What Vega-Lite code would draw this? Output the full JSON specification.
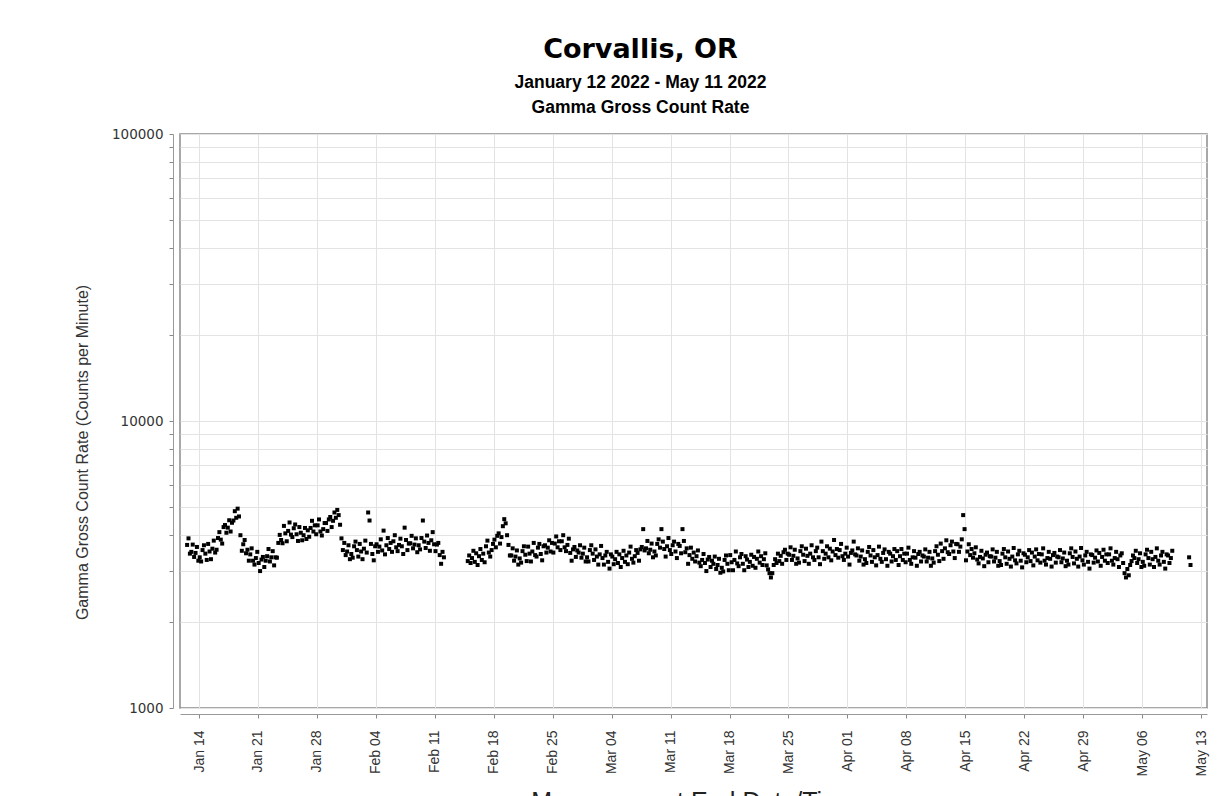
{
"$schema": "https://vega.github.io/schema/vega-lite/v6.json",
"width": 1027,
"height": 574,
"autosize": {"type": "none"},
"padding": {"left": 180, "top": 134, "right": 18, "bottom": 88},
"background": "white",
"title": {
"text": "Corvallis, OR",
"subtitle": ["January 12 2022 - May 11 2022", "Gamma Gross Count Rate"],
"anchor": "middle", "frame": "group", "dx": -53, "offset": 10,
"font": "DejaVu Sans", "fontSize": 27, "fontWeight": "bold", "color": "#000000",
"subtitleFont": "Liberation Sans", "subtitleFontSize": 17.5, "subtitleFontWeight": "bold", "subtitleColor": "#000000",
"subtitlePadding": 10, "subtitleLineHeight": 25
},
"data": {
"format": {"parse": {"t": "utc:'%Y-%m-%d %H'"}},
"values": [
{"t":"2022-01-12 14","v":3700},{"t":"2022-01-12 18","v":3900},{"t":"2022-01-12 22","v":3450},
{"t":"2022-01-13 02","v":3500},{"t":"2022-01-13 06","v":3710},{"t":"2022-01-13 10","v":3360},{"t":"2022-01-13 14","v":3470},{"t":"2022-01-13 18","v":3640},{"t":"2022-01-13 22","v":3260},
{"t":"2022-01-14 02","v":3350},{"t":"2022-01-14 06","v":3240},{"t":"2022-01-14 10","v":3550},{"t":"2022-01-14 14","v":3690},{"t":"2022-01-14 18","v":3450},{"t":"2022-01-14 22","v":3280},
{"t":"2022-01-15 02","v":3730},{"t":"2022-01-15 06","v":3510},{"t":"2022-01-15 10","v":3300},{"t":"2022-01-15 14","v":3590},{"t":"2022-01-15 18","v":3830},{"t":"2022-01-15 22","v":3480},
{"t":"2022-01-16 02","v":3560},{"t":"2022-01-16 06","v":3910},{"t":"2022-01-16 10","v":4100},{"t":"2022-01-16 14","v":3860},{"t":"2022-01-16 18","v":3740},{"t":"2022-01-16 22","v":4270},
{"t":"2022-01-17 02","v":4340},{"t":"2022-01-17 06","v":4080},{"t":"2022-01-17 10","v":4250},{"t":"2022-01-17 14","v":4510},{"t":"2022-01-17 18","v":4120},{"t":"2022-01-17 22","v":4420},
{"t":"2022-01-18 02","v":4500},{"t":"2022-01-18 06","v":4850},{"t":"2022-01-18 10","v":4600},{"t":"2022-01-18 14","v":4950},{"t":"2022-01-18 18","v":4650},{"t":"2022-01-18 22","v":4000},
{"t":"2022-01-19 02","v":3530},{"t":"2022-01-19 06","v":3720},{"t":"2022-01-19 10","v":3850},{"t":"2022-01-19 14","v":3460},{"t":"2022-01-19 18","v":3560},{"t":"2022-01-19 22","v":3260},
{"t":"2022-01-20 02","v":3430},{"t":"2022-01-20 06","v":3600},{"t":"2022-01-20 10","v":3260},{"t":"2022-01-20 14","v":3160},{"t":"2022-01-20 18","v":3330},{"t":"2022-01-20 22","v":3500},
{"t":"2022-01-21 02","v":3200},{"t":"2022-01-21 06","v":3000},{"t":"2022-01-21 10","v":3290},{"t":"2022-01-21 14","v":3360},{"t":"2022-01-21 18","v":3100},{"t":"2022-01-21 22","v":3260},
{"t":"2022-01-22 02","v":3380},{"t":"2022-01-22 06","v":3580},{"t":"2022-01-22 10","v":3240},{"t":"2022-01-22 14","v":3350},{"t":"2022-01-22 18","v":3520},{"t":"2022-01-22 22","v":3140},
{"t":"2022-01-23 02","v":3350},{"t":"2022-01-23 06","v":3340},{"t":"2022-01-23 10","v":3760},{"t":"2022-01-23 14","v":4010},{"t":"2022-01-23 18","v":3850},{"t":"2022-01-23 22","v":3750},
{"t":"2022-01-24 02","v":4310},{"t":"2022-01-24 06","v":4060},{"t":"2022-01-24 10","v":3810},{"t":"2022-01-24 14","v":4140},{"t":"2022-01-24 18","v":4430},{"t":"2022-01-24 22","v":4020},
{"t":"2022-01-25 02","v":3940},{"t":"2022-01-25 06","v":4230},{"t":"2022-01-25 10","v":4360},{"t":"2022-01-25 14","v":4030},{"t":"2022-01-25 18","v":3820},{"t":"2022-01-25 22","v":4270},
{"t":"2022-01-26 02","v":4080},{"t":"2022-01-26 06","v":3840},{"t":"2022-01-26 10","v":4000},{"t":"2022-01-26 14","v":4240},{"t":"2022-01-26 18","v":3880},{"t":"2022-01-26 22","v":4160},
{"t":"2022-01-27 02","v":3950},{"t":"2022-01-27 06","v":4240},{"t":"2022-01-27 10","v":4490},{"t":"2022-01-27 14","v":4120},{"t":"2022-01-27 18","v":4330},{"t":"2022-01-27 22","v":4030},
{"t":"2022-01-28 02","v":4330},{"t":"2022-01-28 06","v":4540},{"t":"2022-01-28 10","v":4120},{"t":"2022-01-28 14","v":3990},{"t":"2022-01-28 18","v":4200},{"t":"2022-01-28 22","v":4410},
{"t":"2022-01-29 02","v":4410},{"t":"2022-01-29 06","v":4140},{"t":"2022-01-29 10","v":4540},{"t":"2022-01-29 14","v":4630},{"t":"2022-01-29 18","v":4270},{"t":"2022-01-29 22","v":4490},
{"t":"2022-01-30 02","v":4800},{"t":"2022-01-30 06","v":4600},{"t":"2022-01-30 10","v":4900},{"t":"2022-01-30 14","v":4700},{"t":"2022-01-30 18","v":4350},{"t":"2022-01-30 22","v":3900},
{"t":"2022-01-31 02","v":3550},{"t":"2022-01-31 06","v":3760},{"t":"2022-01-31 10","v":3410},{"t":"2022-01-31 14","v":3510},{"t":"2022-01-31 18","v":3690},{"t":"2022-01-31 22","v":3300},
{"t":"2022-02-01 02","v":3440},{"t":"2022-02-01 06","v":3340},{"t":"2022-02-01 10","v":3660},{"t":"2022-02-01 14","v":3800},{"t":"2022-02-01 18","v":3550},{"t":"2022-02-01 22","v":3370},
{"t":"2022-02-02 02","v":3730},{"t":"2022-02-02 06","v":3510},{"t":"2022-02-02 10","v":3300},{"t":"2022-02-02 14","v":3590},{"t":"2022-02-02 18","v":3830},{"t":"2022-02-02 22","v":3480},
{"t":"2022-02-03 02","v":4800},{"t":"2022-02-03 06","v":4500},{"t":"2022-02-03 10","v":3730},{"t":"2022-02-03 14","v":3440},{"t":"2022-02-03 18","v":3270},{"t":"2022-02-03 22","v":3660},
{"t":"2022-02-04 02","v":3720},{"t":"2022-02-04 06","v":3500},{"t":"2022-02-04 10","v":3650},{"t":"2022-02-04 14","v":3870},{"t":"2022-02-04 18","v":3540},{"t":"2022-02-04 22","v":4150},
{"t":"2022-02-05 02","v":3430},{"t":"2022-02-05 06","v":3690},{"t":"2022-02-05 10","v":3910},{"t":"2022-02-05 14","v":3580},{"t":"2022-02-05 18","v":3760},{"t":"2022-02-05 22","v":3500},
{"t":"2022-02-06 02","v":3810},{"t":"2022-02-06 06","v":4000},{"t":"2022-02-06 10","v":3630},{"t":"2022-02-06 14","v":3520},{"t":"2022-02-06 18","v":3700},{"t":"2022-02-06 22","v":3890},
{"t":"2022-02-07 02","v":3660},{"t":"2022-02-07 06","v":3440},{"t":"2022-02-07 10","v":4250},{"t":"2022-02-07 14","v":3850},{"t":"2022-02-07 18","v":3550},{"t":"2022-02-07 22","v":3740},
{"t":"2022-02-08 02","v":3750},{"t":"2022-02-08 06","v":3980},{"t":"2022-02-08 10","v":3600},{"t":"2022-02-08 14","v":3710},{"t":"2022-02-08 18","v":3900},{"t":"2022-02-08 22","v":3490},
{"t":"2022-02-09 02","v":3690},{"t":"2022-02-09 06","v":3570},{"t":"2022-02-09 10","v":3910},{"t":"2022-02-09 14","v":4500},{"t":"2022-02-09 18","v":3800},{"t":"2022-02-09 22","v":3610},
{"t":"2022-02-10 02","v":3990},{"t":"2022-02-10 06","v":3760},{"t":"2022-02-10 10","v":3530},{"t":"2022-02-10 14","v":3840},{"t":"2022-02-10 18","v":4100},{"t":"2022-02-10 22","v":3720},
{"t":"2022-02-11 02","v":3520},{"t":"2022-02-11 06","v":3710},{"t":"2022-02-11 10","v":3760},{"t":"2022-02-11 14","v":3410},{"t":"2022-02-11 18","v":3180},{"t":"2022-02-11 22","v":3500},
{"t":"2022-02-12 02","v":3350},
{"t":"2022-02-14 22","v":3250},
{"t":"2022-02-15 02","v":3400},{"t":"2022-02-15 06","v":3200},{"t":"2022-02-15 10","v":3330},{"t":"2022-02-15 14","v":3530},{"t":"2022-02-15 18","v":3230},{"t":"2022-02-15 22","v":3460},
{"t":"2022-02-16 02","v":3150},{"t":"2022-02-16 06","v":3380},{"t":"2022-02-16 10","v":3580},{"t":"2022-02-16 14","v":3280},{"t":"2022-02-16 18","v":3450},{"t":"2022-02-16 22","v":3220},
{"t":"2022-02-17 02","v":3660},{"t":"2022-02-17 06","v":3830},{"t":"2022-02-17 10","v":3480},{"t":"2022-02-17 14","v":3370},{"t":"2022-02-17 18","v":3550},{"t":"2022-02-17 22","v":3730},
{"t":"2022-02-18 02","v":3860},{"t":"2022-02-18 06","v":3630},{"t":"2022-02-18 10","v":3980},{"t":"2022-02-18 14","v":4060},{"t":"2022-02-18 18","v":3740},{"t":"2022-02-18 22","v":3940},
{"t":"2022-02-19 02","v":4300},{"t":"2022-02-19 06","v":4550},{"t":"2022-02-19 10","v":4400},{"t":"2022-02-19 14","v":4000},{"t":"2022-02-19 18","v":3700},{"t":"2022-02-19 22","v":3400},
{"t":"2022-02-20 02","v":3400},{"t":"2022-02-20 06","v":3600},{"t":"2022-02-20 10","v":3260},{"t":"2022-02-20 14","v":3370},{"t":"2022-02-20 18","v":3540},{"t":"2022-02-20 22","v":3160},
{"t":"2022-02-21 02","v":3320},{"t":"2022-02-21 06","v":3210},{"t":"2022-02-21 10","v":3520},{"t":"2022-02-21 14","v":3660},{"t":"2022-02-21 18","v":3420},{"t":"2022-02-21 22","v":3250},
{"t":"2022-02-22 02","v":3650},{"t":"2022-02-22 06","v":3450},{"t":"2022-02-22 10","v":3240},{"t":"2022-02-22 14","v":3510},{"t":"2022-02-22 18","v":3760},{"t":"2022-02-22 22","v":3410},
{"t":"2022-02-23 02","v":3370},{"t":"2022-02-23 06","v":3620},{"t":"2022-02-23 10","v":3730},{"t":"2022-02-23 14","v":3440},{"t":"2022-02-23 18","v":3270},{"t":"2022-02-23 22","v":3660},
{"t":"2022-02-24 02","v":3690},{"t":"2022-02-24 06","v":3480},{"t":"2022-02-24 10","v":3620},{"t":"2022-02-24 14","v":3840},{"t":"2022-02-24 18","v":3510},{"t":"2022-02-24 22","v":3760},
{"t":"2022-02-25 02","v":3480},{"t":"2022-02-25 06","v":3740},{"t":"2022-02-25 10","v":3960},{"t":"2022-02-25 14","v":3630},{"t":"2022-02-25 18","v":3810},{"t":"2022-02-25 22","v":3550},
{"t":"2022-02-26 02","v":3810},{"t":"2022-02-26 06","v":4000},{"t":"2022-02-26 10","v":3630},{"t":"2022-02-26 14","v":3520},{"t":"2022-02-26 18","v":3700},{"t":"2022-02-26 22","v":3890},
{"t":"2022-02-27 02","v":3470},{"t":"2022-02-27 06","v":3260},{"t":"2022-02-27 10","v":3570},{"t":"2022-02-27 14","v":3640},{"t":"2022-02-27 18","v":3360},{"t":"2022-02-27 22","v":3540},
{"t":"2022-02-28 02","v":3480},{"t":"2022-02-28 06","v":3690},{"t":"2022-02-28 10","v":3340},{"t":"2022-02-28 14","v":3450},{"t":"2022-02-28 18","v":3620},{"t":"2022-02-28 22","v":3240},
{"t":"2022-03-01 02","v":3350},{"t":"2022-03-01 06","v":3240},{"t":"2022-03-01 10","v":3550},{"t":"2022-03-01 14","v":3690},{"t":"2022-03-01 18","v":3450},{"t":"2022-03-01 22","v":3280},
{"t":"2022-03-02 02","v":3570},{"t":"2022-03-02 06","v":3370},{"t":"2022-03-02 10","v":3160},{"t":"2022-03-02 14","v":3430},{"t":"2022-03-02 18","v":3670},{"t":"2022-03-02 22","v":3330},
{"t":"2022-03-03 02","v":3160},{"t":"2022-03-03 06","v":3400},{"t":"2022-03-03 10","v":3500},{"t":"2022-03-03 14","v":3230},{"t":"2022-03-03 18","v":3060},{"t":"2022-03-03 22","v":3430},
{"t":"2022-03-04 02","v":3370},{"t":"2022-03-04 06","v":3170},{"t":"2022-03-04 10","v":3300},{"t":"2022-03-04 14","v":3500},{"t":"2022-03-04 18","v":3200},{"t":"2022-03-04 22","v":3430},
{"t":"2022-03-05 02","v":3100},{"t":"2022-03-05 06","v":3330},{"t":"2022-03-05 10","v":3530},{"t":"2022-03-05 14","v":3230},{"t":"2022-03-05 18","v":3400},{"t":"2022-03-05 22","v":3170},
{"t":"2022-03-06 02","v":3480},{"t":"2022-03-06 06","v":3650},{"t":"2022-03-06 10","v":3310},{"t":"2022-03-06 14","v":3210},{"t":"2022-03-06 18","v":3380},{"t":"2022-03-06 22","v":3550},
{"t":"2022-03-07 02","v":3470},{"t":"2022-03-07 06","v":3260},{"t":"2022-03-07 10","v":3570},{"t":"2022-03-07 14","v":3640},{"t":"2022-03-07 18","v":4200},{"t":"2022-03-07 22","v":3540},
{"t":"2022-03-08 02","v":3600},{"t":"2022-03-08 06","v":3820},{"t":"2022-03-08 10","v":3460},{"t":"2022-03-08 14","v":3560},{"t":"2022-03-08 18","v":3740},{"t":"2022-03-08 22","v":3350},
{"t":"2022-03-09 02","v":3510},{"t":"2022-03-09 06","v":3400},{"t":"2022-03-09 10","v":3730},{"t":"2022-03-09 14","v":3870},{"t":"2022-03-09 18","v":3620},{"t":"2022-03-09 22","v":4200},
{"t":"2022-03-10 02","v":3800},{"t":"2022-03-10 06","v":3580},{"t":"2022-03-10 10","v":3370},{"t":"2022-03-10 14","v":3660},{"t":"2022-03-10 18","v":3910},{"t":"2022-03-10 22","v":3550},
{"t":"2022-03-11 02","v":3440},{"t":"2022-03-11 06","v":3690},{"t":"2022-03-11 10","v":3800},{"t":"2022-03-11 14","v":3510},{"t":"2022-03-11 18","v":3330},{"t":"2022-03-11 22","v":3730},
{"t":"2022-03-12 02","v":3670},{"t":"2022-03-12 06","v":3460},{"t":"2022-03-12 10","v":4200},{"t":"2022-03-12 14","v":3820},{"t":"2022-03-12 18","v":3490},{"t":"2022-03-12 22","v":3600},
{"t":"2022-03-13 02","v":3180},{"t":"2022-03-13 06","v":3410},{"t":"2022-03-13 10","v":3620},{"t":"2022-03-13 14","v":3310},{"t":"2022-03-13 18","v":3480},{"t":"2022-03-13 22","v":3240},
{"t":"2022-03-14 02","v":3380},{"t":"2022-03-14 06","v":3540},{"t":"2022-03-14 10","v":3210},{"t":"2022-03-14 14","v":3120},{"t":"2022-03-14 18","v":3280},{"t":"2022-03-14 22","v":3440},
{"t":"2022-03-15 02","v":3200},{"t":"2022-03-15 06","v":3000},{"t":"2022-03-15 10","v":3290},{"t":"2022-03-15 14","v":3360},{"t":"2022-03-15 18","v":3100},{"t":"2022-03-15 22","v":3260},
{"t":"2022-03-16 02","v":3180},{"t":"2022-03-16 06","v":3370},{"t":"2022-03-16 10","v":3050},{"t":"2022-03-16 14","v":3150},{"t":"2022-03-16 18","v":3310},{"t":"2022-03-16 22","v":2960},
{"t":"2022-03-17 02","v":3080},{"t":"2022-03-17 06","v":2990},{"t":"2022-03-17 10","v":3280},{"t":"2022-03-17 14","v":3400},{"t":"2022-03-17 18","v":3180},{"t":"2022-03-17 22","v":3020},
{"t":"2022-03-18 02","v":3410},{"t":"2022-03-18 06","v":3220},{"t":"2022-03-18 10","v":3020},{"t":"2022-03-18 14","v":3280},{"t":"2022-03-18 18","v":3510},{"t":"2022-03-18 22","v":3190},
{"t":"2022-03-19 02","v":3120},{"t":"2022-03-19 06","v":3350},{"t":"2022-03-19 10","v":3440},{"t":"2022-03-19 14","v":3180},{"t":"2022-03-19 18","v":3020},{"t":"2022-03-19 22","v":3380},
{"t":"2022-03-20 02","v":3290},{"t":"2022-03-20 06","v":3100},{"t":"2022-03-20 10","v":3230},{"t":"2022-03-20 14","v":3420},{"t":"2022-03-20 18","v":3130},{"t":"2022-03-20 22","v":3360},
{"t":"2022-03-21 02","v":3080},{"t":"2022-03-21 06","v":3310},{"t":"2022-03-21 10","v":3510},{"t":"2022-03-21 14","v":3210},{"t":"2022-03-21 18","v":3380},{"t":"2022-03-21 22","v":3150},
{"t":"2022-03-22 02","v":3300},{"t":"2022-03-22 06","v":3460},{"t":"2022-03-22 10","v":3140},{"t":"2022-03-22 14","v":3040},{"t":"2022-03-22 18","v":2950},{"t":"2022-03-22 22","v":2850},
{"t":"2022-03-23 02","v":2950},{"t":"2022-03-23 06","v":3150},{"t":"2022-03-23 10","v":3300},{"t":"2022-03-23 14","v":3200},{"t":"2022-03-23 18","v":3450},{"t":"2022-03-23 22","v":3250},
{"t":"2022-03-24 02","v":3390},{"t":"2022-03-24 06","v":3180},{"t":"2022-03-24 10","v":3490},{"t":"2022-03-24 14","v":3560},{"t":"2022-03-24 18","v":3280},{"t":"2022-03-24 22","v":3450},
{"t":"2022-03-25 02","v":3420},{"t":"2022-03-25 06","v":3630},{"t":"2022-03-25 10","v":3280},{"t":"2022-03-25 14","v":3390},{"t":"2022-03-25 18","v":3560},{"t":"2022-03-25 22","v":3180},
{"t":"2022-03-26 02","v":3320},{"t":"2022-03-26 06","v":3210},{"t":"2022-03-26 10","v":3520},{"t":"2022-03-26 14","v":3660},{"t":"2022-03-26 18","v":3420},{"t":"2022-03-26 22","v":3250},
{"t":"2022-03-27 02","v":3590},{"t":"2022-03-27 06","v":3390},{"t":"2022-03-27 10","v":3180},{"t":"2022-03-27 14","v":3450},{"t":"2022-03-27 18","v":3690},{"t":"2022-03-27 22","v":3350},
{"t":"2022-03-28 02","v":3280},{"t":"2022-03-28 06","v":3520},{"t":"2022-03-28 10","v":3620},{"t":"2022-03-28 14","v":3350},{"t":"2022-03-28 18","v":3170},{"t":"2022-03-28 22","v":3800},
{"t":"2022-03-29 02","v":3520},{"t":"2022-03-29 06","v":3310},{"t":"2022-03-29 10","v":3450},{"t":"2022-03-29 14","v":3660},{"t":"2022-03-29 18","v":3350},{"t":"2022-03-29 22","v":3590},
{"t":"2022-03-30 02","v":3270},{"t":"2022-03-30 06","v":3510},{"t":"2022-03-30 10","v":3850},{"t":"2022-03-30 14","v":3410},{"t":"2022-03-30 18","v":3580},{"t":"2022-03-30 22","v":3340},
{"t":"2022-03-31 02","v":3550},{"t":"2022-03-31 06","v":3730},{"t":"2022-03-31 10","v":3380},{"t":"2022-03-31 14","v":3280},{"t":"2022-03-31 18","v":3450},{"t":"2022-03-31 22","v":3620},
{"t":"2022-04-01 02","v":3370},{"t":"2022-04-01 06","v":3160},{"t":"2022-04-01 10","v":3470},{"t":"2022-04-01 14","v":3540},{"t":"2022-04-01 18","v":3800},{"t":"2022-04-01 22","v":3430},
{"t":"2022-04-02 02","v":3400},{"t":"2022-04-02 06","v":3600},{"t":"2022-04-02 10","v":3260},{"t":"2022-04-02 14","v":3370},{"t":"2022-04-02 18","v":3540},{"t":"2022-04-02 22","v":3160},
{"t":"2022-04-03 02","v":3300},{"t":"2022-04-03 06","v":3200},{"t":"2022-04-03 10","v":3500},{"t":"2022-04-03 14","v":3640},{"t":"2022-04-03 18","v":3400},{"t":"2022-04-03 22","v":3230},
{"t":"2022-04-04 02","v":3550},{"t":"2022-04-04 06","v":3350},{"t":"2022-04-04 10","v":3140},{"t":"2022-04-04 14","v":3410},{"t":"2022-04-04 18","v":3650},{"t":"2022-04-04 22","v":3310},
{"t":"2022-04-05 02","v":3230},{"t":"2022-04-05 06","v":3470},{"t":"2022-04-05 10","v":3570},{"t":"2022-04-05 14","v":3300},{"t":"2022-04-05 18","v":3130},{"t":"2022-04-05 22","v":3500},
{"t":"2022-04-06 02","v":3450},{"t":"2022-04-06 06","v":3240},{"t":"2022-04-06 10","v":3380},{"t":"2022-04-06 14","v":3580},{"t":"2022-04-06 18","v":3280},{"t":"2022-04-06 22","v":3520},
{"t":"2022-04-07 02","v":3150},{"t":"2022-04-07 06","v":3380},{"t":"2022-04-07 10","v":3580},{"t":"2022-04-07 14","v":3280},{"t":"2022-04-07 18","v":3450},{"t":"2022-04-07 22","v":3220},
{"t":"2022-04-08 02","v":3450},{"t":"2022-04-08 06","v":3620},{"t":"2022-04-08 10","v":3280},{"t":"2022-04-08 14","v":3180},{"t":"2022-04-08 18","v":3350},{"t":"2022-04-08 22","v":3520},
{"t":"2022-04-09 02","v":3340},{"t":"2022-04-09 06","v":3130},{"t":"2022-04-09 10","v":3440},{"t":"2022-04-09 14","v":3500},{"t":"2022-04-09 18","v":3240},{"t":"2022-04-09 22","v":3400},
{"t":"2022-04-10 02","v":3370},{"t":"2022-04-10 06","v":3570},{"t":"2022-04-10 10","v":3240},{"t":"2022-04-10 14","v":3340},{"t":"2022-04-10 18","v":3500},{"t":"2022-04-10 22","v":3130},
{"t":"2022-04-11 02","v":3320},{"t":"2022-04-11 06","v":3210},{"t":"2022-04-11 10","v":3520},{"t":"2022-04-11 14","v":3660},{"t":"2022-04-11 18","v":3420},{"t":"2022-04-11 22","v":3250},
{"t":"2022-04-12 02","v":3740},{"t":"2022-04-12 06","v":3520},{"t":"2022-04-12 10","v":3310},{"t":"2022-04-12 14","v":3600},{"t":"2022-04-12 18","v":3840},{"t":"2022-04-12 22","v":3490},
{"t":"2022-04-13 02","v":3440},{"t":"2022-04-13 06","v":3690},{"t":"2022-04-13 10","v":3800},{"t":"2022-04-13 14","v":3510},{"t":"2022-04-13 18","v":3330},{"t":"2022-04-13 22","v":3730},
{"t":"2022-04-14 02","v":3720},{"t":"2022-04-14 06","v":3500},{"t":"2022-04-14 10","v":3650},{"t":"2022-04-14 14","v":3870},{"t":"2022-04-14 18","v":4700},{"t":"2022-04-14 22","v":4200},
{"t":"2022-04-15 02","v":3270},{"t":"2022-04-15 06","v":3510},{"t":"2022-04-15 10","v":3720},{"t":"2022-04-15 14","v":3410},{"t":"2022-04-15 18","v":3580},{"t":"2022-04-15 22","v":3340},
{"t":"2022-04-16 02","v":3460},{"t":"2022-04-16 06","v":3630},{"t":"2022-04-16 10","v":3290},{"t":"2022-04-16 14","v":3190},{"t":"2022-04-16 18","v":3360},{"t":"2022-04-16 22","v":3530},
{"t":"2022-04-17 02","v":3320},{"t":"2022-04-17 06","v":3120},{"t":"2022-04-17 10","v":3420},{"t":"2022-04-17 14","v":3480},{"t":"2022-04-17 18","v":3220},{"t":"2022-04-17 22","v":3380},
{"t":"2022-04-18 02","v":3370},{"t":"2022-04-18 06","v":3570},{"t":"2022-04-18 10","v":3240},{"t":"2022-04-18 14","v":3340},{"t":"2022-04-18 18","v":3500},{"t":"2022-04-18 22","v":3130},
{"t":"2022-04-19 02","v":3250},{"t":"2022-04-19 06","v":3150},{"t":"2022-04-19 10","v":3450},{"t":"2022-04-19 14","v":3580},{"t":"2022-04-19 18","v":3350},{"t":"2022-04-19 22","v":3180},
{"t":"2022-04-20 02","v":3510},{"t":"2022-04-20 06","v":3310},{"t":"2022-04-20 10","v":3110},{"t":"2022-04-20 14","v":3370},{"t":"2022-04-20 18","v":3610},{"t":"2022-04-20 22","v":3270},
{"t":"2022-04-21 02","v":3190},{"t":"2022-04-21 06","v":3430},{"t":"2022-04-21 10","v":3530},{"t":"2022-04-21 14","v":3260},{"t":"2022-04-21 18","v":3090},{"t":"2022-04-21 22","v":3460},
{"t":"2022-04-22 02","v":3420},{"t":"2022-04-22 06","v":3220},{"t":"2022-04-22 10","v":3350},{"t":"2022-04-22 14","v":3550},{"t":"2022-04-22 18","v":3250},{"t":"2022-04-22 22","v":3480},
{"t":"2022-04-23 02","v":3140},{"t":"2022-04-23 06","v":3370},{"t":"2022-04-23 10","v":3570},{"t":"2022-04-23 14","v":3270},{"t":"2022-04-23 18","v":3440},{"t":"2022-04-23 22","v":3210},
{"t":"2022-04-24 02","v":3430},{"t":"2022-04-24 06","v":3600},{"t":"2022-04-24 10","v":3260},{"t":"2022-04-24 14","v":3160},{"t":"2022-04-24 18","v":3330},{"t":"2022-04-24 22","v":3500},
{"t":"2022-04-25 02","v":3310},{"t":"2022-04-25 06","v":3110},{"t":"2022-04-25 10","v":3410},{"t":"2022-04-25 14","v":3470},{"t":"2022-04-25 18","v":3210},{"t":"2022-04-25 22","v":3370},
{"t":"2022-04-26 02","v":3350},{"t":"2022-04-26 06","v":3550},{"t":"2022-04-26 10","v":3220},{"t":"2022-04-26 14","v":3320},{"t":"2022-04-26 18","v":3480},{"t":"2022-04-26 22","v":3120},
{"t":"2022-04-27 02","v":3260},{"t":"2022-04-27 06","v":3160},{"t":"2022-04-27 10","v":3460},{"t":"2022-04-27 14","v":3600},{"t":"2022-04-27 18","v":3360},{"t":"2022-04-27 22","v":3190},
{"t":"2022-04-28 02","v":3510},{"t":"2022-04-28 06","v":3310},{"t":"2022-04-28 10","v":3110},{"t":"2022-04-28 14","v":3370},{"t":"2022-04-28 18","v":3610},{"t":"2022-04-28 22","v":3270},
{"t":"2022-04-29 02","v":3160},{"t":"2022-04-29 06","v":3400},{"t":"2022-04-29 10","v":3500},{"t":"2022-04-29 14","v":3230},{"t":"2022-04-29 18","v":3060},{"t":"2022-04-29 22","v":3430},
{"t":"2022-04-30 02","v":3410},{"t":"2022-04-30 06","v":3210},{"t":"2022-04-30 10","v":3340},{"t":"2022-04-30 14","v":3540},{"t":"2022-04-30 18","v":3240},{"t":"2022-04-30 22","v":3470},
{"t":"2022-05-01 02","v":3130},{"t":"2022-05-01 06","v":3360},{"t":"2022-05-01 10","v":3560},{"t":"2022-05-01 14","v":3260},{"t":"2022-05-01 18","v":3430},{"t":"2022-05-01 22","v":3200},
{"t":"2022-05-02 02","v":3430},{"t":"2022-05-02 06","v":3600},{"t":"2022-05-02 10","v":3260},{"t":"2022-05-02 14","v":3160},{"t":"2022-05-02 18","v":3330},{"t":"2022-05-02 22","v":3500},
{"t":"2022-05-03 02","v":3300},{"t":"2022-05-03 06","v":3100},{"t":"2022-05-03 10","v":3400},{"t":"2022-05-03 14","v":3460},{"t":"2022-05-03 18","v":3200},{"t":"2022-05-03 22","v":2950},
{"t":"2022-05-04 02","v":2850},{"t":"2022-05-04 06","v":3050},{"t":"2022-05-04 10","v":2900},{"t":"2022-05-04 14","v":3150},{"t":"2022-05-04 18","v":3250},{"t":"2022-05-04 22","v":3400},
{"t":"2022-05-05 02","v":3330},{"t":"2022-05-05 06","v":3530},{"t":"2022-05-05 10","v":3200},{"t":"2022-05-05 14","v":3300},{"t":"2022-05-05 18","v":3460},{"t":"2022-05-05 22","v":3100},
{"t":"2022-05-06 02","v":3230},{"t":"2022-05-06 06","v":3130},{"t":"2022-05-06 10","v":3430},{"t":"2022-05-06 14","v":3560},{"t":"2022-05-06 18","v":3330},{"t":"2022-05-06 22","v":3160},
{"t":"2022-05-07 02","v":3500},{"t":"2022-05-07 06","v":3300},{"t":"2022-05-07 10","v":3100},{"t":"2022-05-07 14","v":3360},{"t":"2022-05-07 18","v":3600},{"t":"2022-05-07 22","v":3260},
{"t":"2022-05-08 02","v":3160},{"t":"2022-05-08 06","v":3400},{"t":"2022-05-08 10","v":3500},{"t":"2022-05-08 14","v":3230},{"t":"2022-05-08 18","v":3060},{"t":"2022-05-08 22","v":3430},
{"t":"2022-05-09 02","v":3400},{"t":"2022-05-09 06","v":3200},{"t":"2022-05-09 10","v":3330},{"t":"2022-05-09 14","v":3530},
{"t":"2022-05-11 14","v":3350},{"t":"2022-05-11 18","v":3150}
]
},
"mark": {"type": "square", "size": 16, "color": "#000000", "filled": true, "opacity": 1},
"encoding": {
"x": {
"field": "t", "type": "temporal",
"scale": {"type": "utc", "nice": false, "domain": [{"year": 2022, "month": 1, "date": 11, "hours": 17, "minutes": 45, "utc": true}, {"year": 2022, "month": 5, "date": 13, "hours": 17, "utc": true}]},
"axis": {
"values": [
{"year": 2022, "month": 1, "date": 14, "utc": true},{"year": 2022, "month": 1, "date": 21, "utc": true},{"year": 2022, "month": 1, "date": 28, "utc": true},
{"year": 2022, "month": 2, "date": 4, "utc": true},{"year": 2022, "month": 2, "date": 11, "utc": true},{"year": 2022, "month": 2, "date": 18, "utc": true},{"year": 2022, "month": 2, "date": 25, "utc": true},
{"year": 2022, "month": 3, "date": 4, "utc": true},{"year": 2022, "month": 3, "date": 11, "utc": true},{"year": 2022, "month": 3, "date": 18, "utc": true},{"year": 2022, "month": 3, "date": 25, "utc": true},
{"year": 2022, "month": 4, "date": 1, "utc": true},{"year": 2022, "month": 4, "date": 8, "utc": true},{"year": 2022, "month": 4, "date": 15, "utc": true},{"year": 2022, "month": 4, "date": 22, "utc": true},{"year": 2022, "month": 4, "date": 29, "utc": true},
{"year": 2022, "month": 5, "date": 6, "utc": true},{"year": 2022, "month": 5, "date": 13, "utc": true}
],
"labelExpr": "utcFormat(datum.value, '%b %d')",
"labelAngle": -90, "labelFont": "Liberation Sans", "labelFontSize": 14, "labelColor": "#333333",
"labelPadding": 12, "labelOverlap": false, "labelFlush": false, "labelBound": false,
"tickSize": 4, "tickColor": "#888888", "domainColor": "#999999", "offset": 6,
"grid": true, "gridColor": "#e3e3e3", "gridWidth": 1,
"title": "Measurement End Date/Time", "titleFont": "Liberation Sans", "titleFontSize": 25, "titleFontWeight": "normal", "titleColor": "#222222",
"titleY": 75, "titleBaseline": "top"
}
},
"y": {
"field": "v", "type": "quantitative",
"scale": {"type": "log", "domain": [1000, 100000], "nice": false},
"axis": {
"values": [1000,2000,3000,4000,5000,6000,7000,8000,9000,10000,20000,30000,40000,50000,60000,70000,80000,90000,100000],
"labelExpr": "(datum.value == 1000 || datum.value == 10000 || datum.value == 100000) ? format(datum.value, 'd') : ''",
"labelFont": "DejaVu Sans", "labelFontSize": 13.5, "labelColor": "#333333", "labelPadding": 6,
"labelOverlap": false, "labelFlush": false, "labelBound": false,
"tickSize": 4, "tickColor": "#888888", "domainColor": "#999999", "offset": 7,
"grid": true, "gridColor": "#e3e3e3", "gridWidth": 1,
"title": "Gamma Gross Count Rate (Counts per Minute)", "titleFont": "Liberation Sans", "titleFontSize": 16, "titleFontWeight": "normal", "titleColor": "#333333",
"titleX": -83, "titleY": 318
}
}
},
"config": {"view": {"stroke": "#8c8c8c", "strokeWidth": 1.5}}
}
